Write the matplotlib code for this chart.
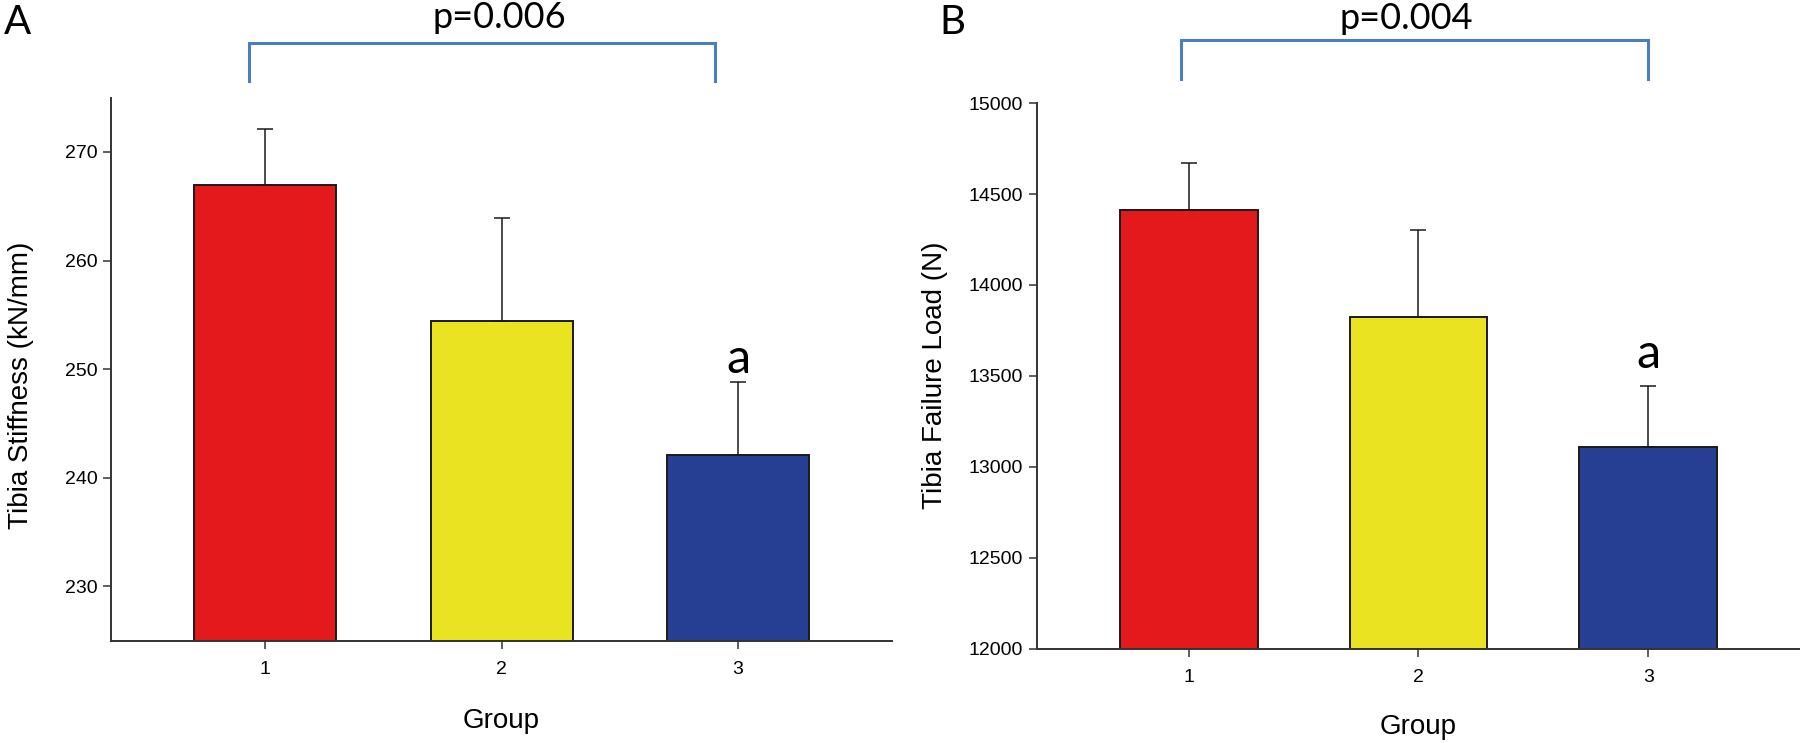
import matplotlib
matplotlib.use("Agg")
import matplotlib.pyplot as plt
import matplotlib.transforms as mtransforms

# ---- data ----
groups = [1, 2, 3]
group_labels = ["1", "2", "3"]
bar_colors = ["#e3191b", "#eae321", "#263f92"]

stiffness_mean = [267.0, 254.4, 242.1]
stiffness_err = [5.1, 9.5, 6.7]
stiffness_ticks = [230, 240, 250, 260, 270]

load_mean = [14413, 13825, 13109]
load_err = [257, 480, 337]
load_ticks = [12000, 12500, 13000, 13500, 14000, 14500, 15000]

panel_letters = ["A", "B"]
p_values = ["p=0.006", "p=0.004"]
sig_mark = "a"

plt.rcParams['font.family'] = ['Liberation Sans', 'DejaVu Sans']
ANN_FONT = ['Lato', 'DejaVu Sans']

fig = plt.figure(figsize=(18, 7.43), dpi=100)
axA = fig.add_axes([0.0619, 0.1378, 0.4335, 0.7308])
axB = fig.add_axes([0.5761, 0.1271, 0.4239, 0.7340])

spine_col = "#333333"


def style(ax, ylim, yticks, xlim):
    ax.set_xlim(*xlim)
    ax.set_ylim(*ylim)
    ax.set_yticks(yticks)
    ax.set_xticks(groups)
    ax.set_xticklabels(group_labels)
    for s in ["top", "right"]:
        ax.spines[s].set_visible(False)
    for s in ["left", "bottom"]:
        ax.spines[s].set_linewidth(1.4)
        ax.spines[s].set_color(spine_col)
    ax.tick_params(axis="both", direction="out", length=5.8, width=1.1,
                   color=spine_col, labelsize=14)
    ax.tick_params(axis="y", pad=4)
    ax.tick_params(axis="x", pad=9)


def draw(ax, means, errs):
    ax.bar(groups, means, width=0.6, color=bar_colors, edgecolor="#1a1a1a",
           linewidth=1.4, zorder=2)
    ax.errorbar(groups, means, yerr=[[0] * len(errs), errs], fmt="none",
                ecolor="#1a1a1a", elinewidth=1.1, capsize=6.1, capthick=1.1,
                zorder=3)


draw(axA, stiffness_mean, stiffness_err)
style(axA, (225, 275), stiffness_ticks, (0.35, 3.65))
axA.set_ylabel("Tibia Stiffness (kN/mm)", fontsize=20)
axA.yaxis.set_label_coords(-0.0987, 0.47)
axA.set_xlabel("Group", fontsize=20)
axA.xaxis.set_label_coords(0.5, -0.124)

draw(axB, load_mean, load_err)
style(axB, (12000, 15000), load_ticks, (0.34, 3.66))
axB.set_ylabel("Tibia Failure Load (N)", fontsize=20)
axB.yaxis.set_label_coords(-0.1166, 0.501)
axB.set_xlabel("Group", fontsize=20)
axB.xaxis.set_label_coords(0.5, -0.12)

# significance letter above group 3
axA.annotate(sig_mark, xy=(groups[2], stiffness_mean[2] + stiffness_err[2]),
             xytext=(0, 6.3), textcoords="offset points", ha="center",
             va="baseline", fontsize=35, family=ANN_FONT)
axB.annotate(sig_mark, xy=(groups[2], load_mean[2] + load_err[2]),
             xytext=(0, 12.7), textcoords="offset points", ha="center",
             va="baseline", fontsize=35, family=ANN_FONT)

# brackets with p-values
bracket_col = "#4a7ebf"
for ax, x0, x1, ytop, ybot in [(axA, 0.932, 2.902, 1.1005, 1.0315),
                               (axB, 0.967, 2.997, 1.115, 1.0446)]:
    tr = mtransforms.blended_transform_factory(ax.transData, ax.transAxes)
    ax.plot([x0, x0, x1, x1], [ybot, ytop, ytop, ybot], color=bracket_col,
            lw=2.2, transform=tr, clip_on=False, solid_joinstyle="miter")

fig.text(499 / 1800, 1 - 28.3 / 743, p_values[0], ha="center", va="baseline",
         fontsize=26, family=ANN_FONT)
fig.text(1406.5 / 1800, 1 - 29.3 / 743, p_values[1], ha="center", va="baseline",
         fontsize=26, family=ANN_FONT)

fig.text(3.4 / 1800, 1 - 34 / 743, panel_letters[0], ha="left", va="baseline",
         fontsize=29, family=ANN_FONT)
fig.text(939 / 1800, 1 - 34 / 743, panel_letters[1], ha="left", va="baseline",
         fontsize=29, family=ANN_FONT)

fig.savefig("out.png", dpi=100, facecolor="white")
